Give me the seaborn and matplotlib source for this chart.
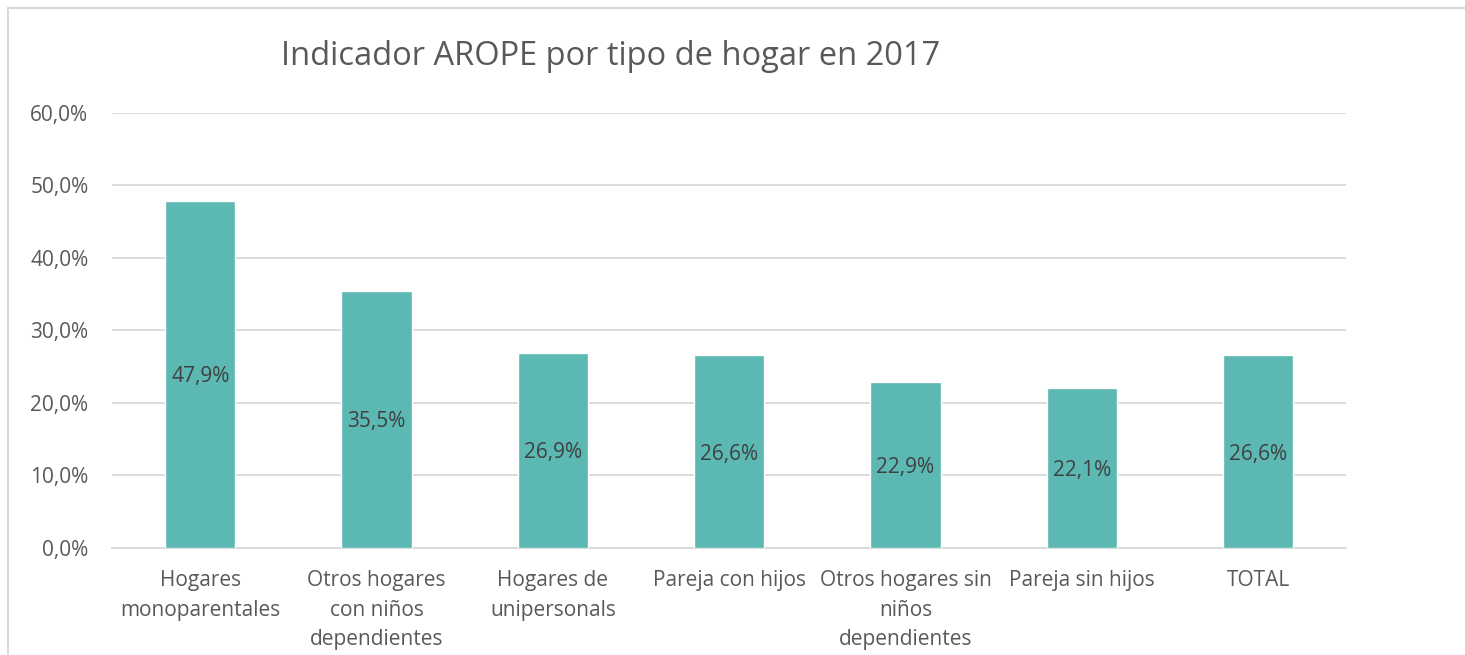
import pandas as pd
import seaborn as sns
import matplotlib.pyplot as plt
from matplotlib.patches import Rectangle
from matplotlib.ticker import FuncFormatter

categorias = ['Hogares\nmonoparentales', 'Otros hogares\ncon niños\ndependientes',
              'Hogares de\nunipersonals', 'Pareja con hijos',
              'Otros hogares sin\nniños\ndependientes', 'Pareja sin hijos', 'TOTAL']
valores = [47.9, 35.5, 26.9, 26.6, 22.9, 22.1, 26.6]

df = pd.DataFrame({'tipo': categorias, 'arope': valores})

sns.set_style('white')
plt.rcParams['font.family'] = ['Open Sans', 'DejaVu Sans']

fig = plt.figure(figsize=(14.65, 6.55), dpi=100)
ax = fig.add_axes([0.0765, 0.1634, 0.8425, 0.6641])

sns.barplot(data=df, x='tipo', y='arope', color='#5BB8B3', width=0.4,
            saturation=1, ax=ax, zorder=3)

ax.set_ylim(0, 60)
ax.set_yticks(range(0, 61, 10))
ax.yaxis.set_major_formatter(FuncFormatter(lambda v, p: f'{v:.1f}%'.replace('.', ',')))
ax.grid(axis='y', color='#d9d9d9', lw=1.3, zorder=0)
for s in ['top', 'right', 'left']:
    ax.spines[s].set_visible(False)
ax.spines['bottom'].set_color('#d9d9d9')
ax.spines['bottom'].set_linewidth(1.3)
ax.set_xlabel('')
ax.set_ylabel('')
ax.tick_params(axis='both', length=0, labelsize=15, labelcolor='#595959')
ax.tick_params(axis='x', pad=16)
ax.tick_params(axis='y', pad=17)
for lbl in ax.get_xticklabels():
    lbl.set_linespacing(1.53)

for bar, v in zip(ax.patches, valores):
    ax.text(bar.get_x() + bar.get_width() / 2, v / 2, f'{v:.1f}%'.replace('.', ','),
            ha='center', va='center_baseline', fontsize=15, color='#404040', zorder=4)

fig.text(0.4165, 0.914, 'Indicador AROPE por tipo de hogar en 2017', ha='center',
         va='center', fontsize=23.5, color='#595959')

fig.patches.append(Rectangle((8 / 1465, -0.1), 2, 1.1 - 8 / 655, transform=fig.transFigure,
                             fill=False, edgecolor='#d9d9d9', lw=1.5))

fig.savefig('out.png', dpi=100)
